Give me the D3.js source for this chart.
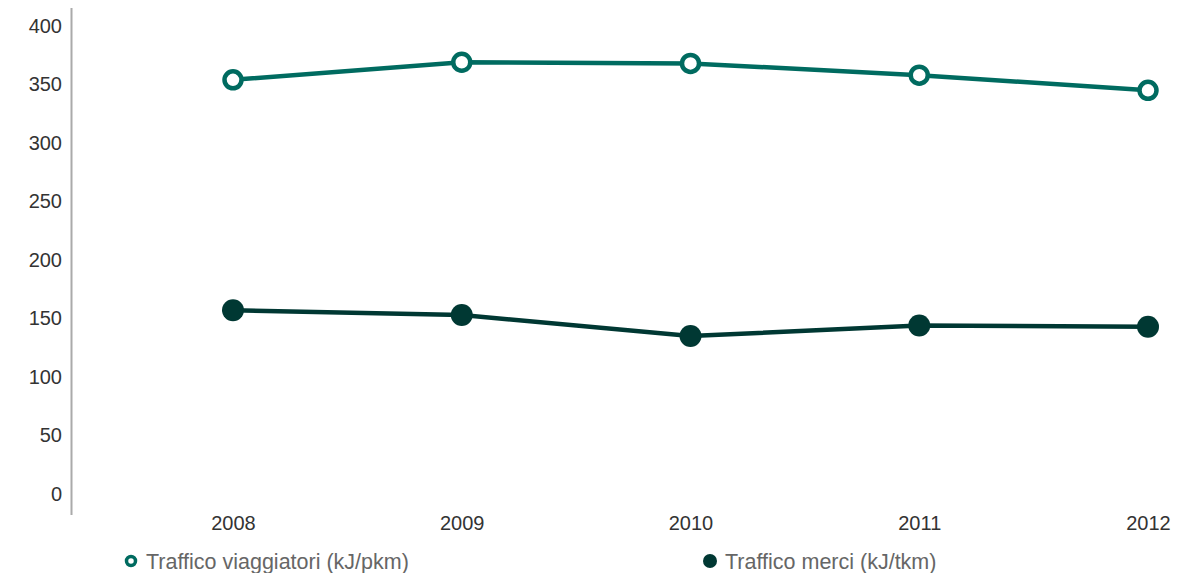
<!DOCTYPE html>
<html>
<head>
<meta charset="utf-8">
<script src="https://cdn.jsdelivr.net/npm/d3@7"></script>
<style>
  html, body { margin: 0; padding: 0; background: #fff; }
  svg { display: block; font-family: "Liberation Sans", Arial, sans-serif; }
</style>
</head>
<body>
<svg id="chart" width="1189" height="573"></svg>
<script>
// Energy consumption per traffic unit, 2008–2012
const years = ["2008", "2009", "2010", "2011", "2012"];
const passengerValues = [354, 369, 368, 358, 345];
const freightValues = [157, 153, 135, 144, 143];
const yTicks = [0, 50, 100, 150, 200, 250, 300, 350, 400];
const seriesNames = ["Traffico viaggiatori (kJ/pkm)", "Traffico merci (kJ/tkm)"];

const svg = d3.select("#chart");

const x = d3.scalePoint().domain(years).range([233, 1148]);
const y = d3.scaleLinear().domain([0, 400]).range([494, 26]);

// Vertical axis line
svg.append("line")
  .attr("x1", 71.5).attr("x2", 71.5)
  .attr("y1", 8).attr("y2", 515)
  .attr("stroke", "#aaa").attr("stroke-width", 2);

// Y tick labels
const yAxis = d3.axisLeft(y).tickValues(yTicks).tickSize(0).tickPadding(0);
const gy = svg.append("g").attr("transform", "translate(62,0)").call(yAxis);
gy.select(".domain").remove();
gy.selectAll("text")
  .attr("font-size", 20).attr("fill", "#333")
  .attr("font-family", "'Liberation Sans', Arial, sans-serif");

// X tick labels
const xAxis = d3.axisBottom(x).tickSize(0).tickPadding(0);
const gx = svg.append("g").attr("transform", "translate(0,516)").call(xAxis);
gx.select(".domain").remove();
gx.selectAll("text")
  .attr("font-size", 20).attr("fill", "#333")
  .attr("font-family", "'Liberation Sans', Arial, sans-serif");

const line = d3.line().x((d, i) => x(years[i])).y(d => y(d));

const teal = "#006b60";
const dark = "#003833";

// Passenger series
svg.append("path").datum(passengerValues)
  .attr("d", line).attr("fill", "none")
  .attr("stroke", teal).attr("stroke-width", 4.5);
svg.selectAll(".pdot").data(passengerValues).enter().append("circle")
  .attr("cx", (d, i) => x(years[i])).attr("cy", d => y(d))
  .attr("r", 8.5).attr("fill", "#fff")
  .attr("stroke", teal).attr("stroke-width", 4.5);

// Freight series
svg.append("path").datum(freightValues)
  .attr("d", line).attr("fill", "none")
  .attr("stroke", dark).attr("stroke-width", 4.5);
svg.selectAll(".fdot").data(freightValues).enter().append("circle")
  .attr("cx", (d, i) => x(years[i])).attr("cy", d => y(d))
  .attr("r", 11).attr("fill", dark);

// Legend
const legend = [
  { name: seriesNames[0], x: 131, hollow: true, color: teal },
  { name: seriesNames[1], x: 710, hollow: false, color: dark }
];
const lg = svg.selectAll(".legend").data(legend).enter().append("g")
  .attr("transform", d => `translate(${d.x},561)`);
lg.append("circle")
  .attr("r", d => d.hollow ? 4.5 : 7)
  .attr("fill", d => d.hollow ? "#fff" : d.color)
  .attr("stroke", d => d.hollow ? d.color : "none")
  .attr("stroke-width", 3.5);
lg.append("text")
  .attr("x", 15)
  .attr("dy", "0.35em")
  .attr("font-size", 21.5).attr("fill", "#666")
  .text(d => d.name);
</script>
</body>
</html>
